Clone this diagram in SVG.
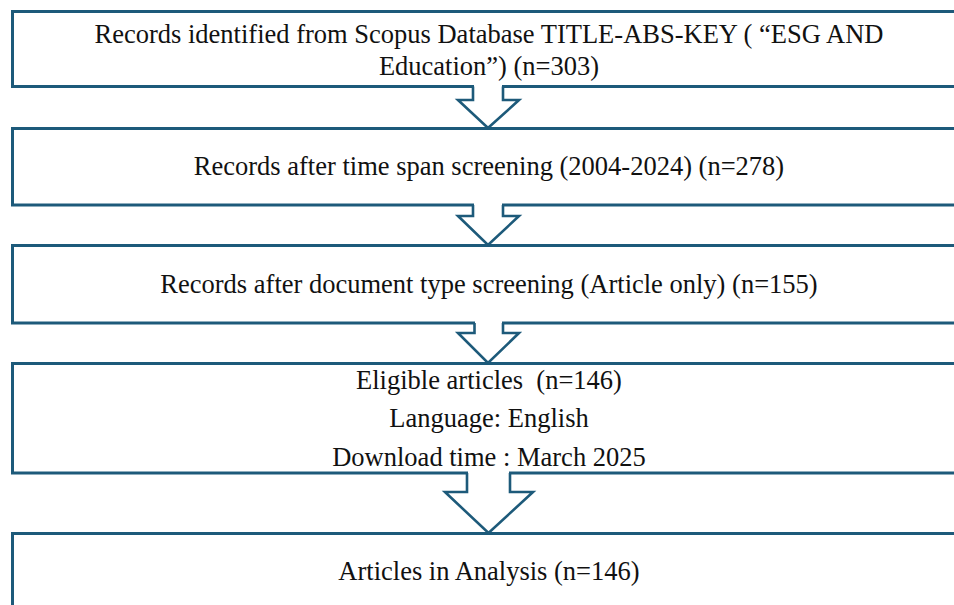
<svg xmlns="http://www.w3.org/2000/svg" width="954" height="605" viewBox="0 0 954 605">
  <style>
    .box { fill: #ffffff; stroke: #1d5a7a; stroke-width: 3; }
    .arrow-fill { fill: #ffffff; stroke: none; }
    .arrow-line { fill: none; stroke: #1d5a7a; stroke-width: 2.6; stroke-linejoin: miter; }
    .label { font-family: "Liberation Serif", "Times New Roman", serif; font-size: 26.5px; fill: #111111; text-anchor: middle; white-space: pre; }
  </style>
  <rect x="0" y="0" width="954" height="605" fill="#ffffff"/>

  <!-- process boxes (right edge runs off the page) -->
  <g id="node-identified">
    <rect class="box" x="12.5" y="11.5" width="960" height="75"/>
    <text class="label" x="489" y="43">Records identified from Scopus Database TITLE-ABS-KEY ( “ESG AND</text>
    <text class="label" x="489" y="75">Education”) (n=303)</text>
  </g>
  <g id="node-timespan">
    <rect class="box" x="12.5" y="128.5" width="960" height="76.5"/>
    <text class="label" x="489" y="175">Records after time span screening (2004-2024) (n=278)</text>
  </g>
  <g id="node-doctype">
    <rect class="box" x="12.5" y="245.5" width="960" height="77.5"/>
    <text class="label" x="489" y="293">Records after document type screening (Article only) (n=155)</text>
  </g>
  <g id="node-eligible">
    <rect class="box" x="12.5" y="363.5" width="960" height="109.5"/>
    <text class="label" x="489" y="389" xml:space="preserve">Eligible articles  (n=146)</text>
    <text class="label" x="489" y="427">Language: English</text>
    <text class="label" x="489" y="466">Download time : March 2025</text>
  </g>
  <g id="node-analysis">
    <rect class="box" x="12.5" y="533.5" width="960" height="100"/>
    <text class="label" x="489" y="580">Articles in Analysis (n=146)</text>
  </g>

  <!-- block arrows between the boxes -->
  <g id="connectors">
    <polygon class="arrow-fill" points="474,84 502,84 502,100 517,100 488,127 459,100 474,100"/>
    <path class="arrow-line" d="M473,86.5 V100 H458 L488,128 L519,100 H503 V86.5"/>

    <polygon class="arrow-fill" points="474,203 502,203 502,216 517,216 488,244 459,216 474,216"/>
    <path class="arrow-line" d="M473,205 V216 H458 L488,245 L519,216 H503 V205"/>

    <polygon class="arrow-fill" points="475,321 502,321 502,333 517,333 488,362 459,333 475,333"/>
    <path class="arrow-line" d="M474.5,323 V333 H458 L488,363 L519,333 H503 V323"/>

    <polygon class="arrow-fill" points="468,471 509,471 509,492 531,492 488,532 447,492 468,492"/>
    <path class="arrow-line" d="M467,473 V492 H445 L488.5,533 L533,492 H510 V473"/>
  </g>
</svg>
